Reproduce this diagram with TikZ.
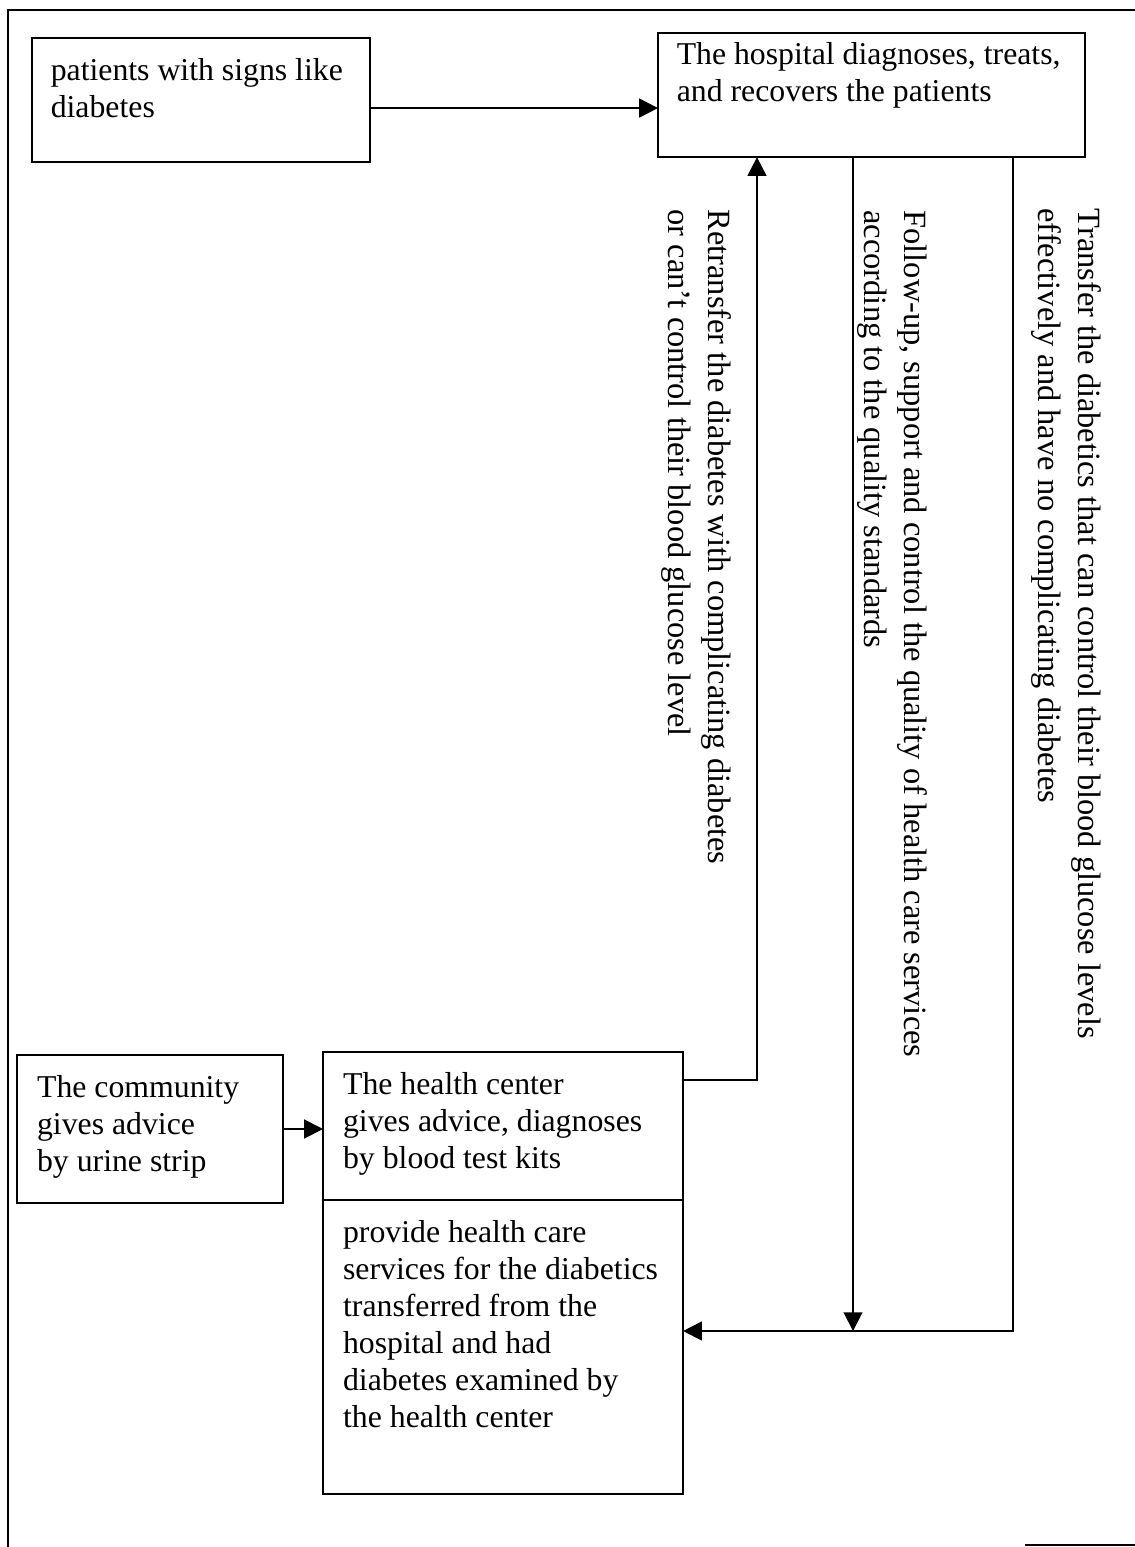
\documentclass[tikz,border=0pt]{standalone}
\usepackage{fontspec}
\setmainfont{Liberation Serif}
\usepackage{tikz}
\usetikzlibrary{arrows.meta, positioning, calc}

\begin{document}
\begin{tikzpicture}[x=0.373pt, y=-0.373pt,
    every node/.style={font=\fontsize{11.85}{13.8}\selectfont},
    stepbox/.style={draw, line width=0.75pt, anchor=north west, align=flush left,
        inner xsep=5pt, inner ysep=7pt, outer sep=0pt, text height=9pt},
    sidetext/.style={rotate=-90, anchor=north west, align=left, inner sep=0pt,
        font=\fontsize{12.1}{14.9}\selectfont},
    arr/.style={line width=0.75pt, -{Triangle[length=7pt, width=7pt]}},
    link/.style={line width=0.75pt}]

    % Frame
    \useasboundingbox (0,0) rectangle (1135,1547);
    \draw[link] (1135,10) -- (8,10) -- (8,1547);
    \draw[link] (1025,1545) -- (1135,1545);

    % Top row
    \node[stepbox, inner xsep=7pt, text width=112pt, text depth=23.3pt] (signs) at (32,38)
        {patients with signs like\\diabetes};
    \node[stepbox, inner xsep=7pt, inner ysep=2.6pt, text width=145.3pt, text depth=32.1pt] (hospital) at (658,33)
        {The hospital diagnoses, treats,\\and recovers the patients};

    % Bottom row
    \node[stepbox, inner xsep=7.5pt, text width=84.2pt, text depth=32.2pt] (community) at (17,1055)
        {The community\\gives advice\\by urine strip};
    \node[stepbox, inner xsep=7.5pt, text width=119.3pt, text depth=32.2pt] (hcenter) at (323,1052)
        {The health center\\gives advice, diagnoses\\by blood test kits};
    \node[stepbox, inner xsep=7.5pt, text width=119.3pt, text depth=86.7pt] (hcare) at (hcenter.south west)
        {provide health care\\services for the diabetics\\transferred from the\\hospital and had\\diabetes examined by\\the health center};

    % Vertical routes
    \coordinate (xretr) at (757,0);
    \coordinate (xfollow) at (853,0);
    \coordinate (xtrans) at (1013,0);
    \coordinate (yjoin) at (0,1331);
    \coordinate (sout) at ($(signs.east)+(0,8)$);
    \coordinate (hout) at ($(hcenter.north east)+(0,28)$);

    % Arrows
    \draw[arr] (sout) -- (sout -| hospital.west);
    \draw[arr] (community.east) -- (community.east -| hcenter.west);
    \draw[arr] (hout) -| (hospital.south -| xretr);
    \draw[arr] (hospital.south -| xfollow) -- (xfollow |- yjoin);
    \draw[arr] (hospital.south -| xtrans) |- (hcare.east |- yjoin);

    % Route labels
    \node[sidetext] (retransfer) at (732,209)
        {Retransfer the diabetes with complicating diabetes\\or can’t control their blood glucose level};
    \node[sidetext] (followup) at (928,210)
        {Follow-up, support and control the quality of health care services\\according to the quality standards};
    \node[sidetext] (transfer) at (1102,208)
        {Transfer the diabetics that can control their blood glucose levels\\effectively and have no complicating diabetes};

\end{tikzpicture}
\end{document}
